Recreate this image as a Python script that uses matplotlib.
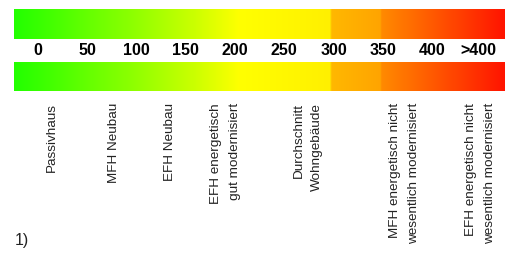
import numpy as np
import matplotlib.pyplot as plt
from matplotlib.colors import LinearSegmentedColormap

# Skala (kWh/m²a) und Beschriftungen
skala_werte = [0, 50, 100, 150, 200, 250, 300, 350, 400, 447]
skala_text = ["0", "50", "100", "150", "200", "250", "300", "350", "400", ">400"]

gebaeude_pos = [14, 77, 134, 190, 274, 372, 449]
gebaeude_text = ["Passivhaus",
                 "MFH Neubau",
                 "EFH Neubau",
                 "EFH energetisch\ngut modernisiert",
                 "Durchschnitt\nWohngebäude",
                 "MFH energetisch nicht\nwesentlich modernisiert",
                 "EFH energetisch nicht\nwesentlich modernisiert"]

# Farbverlauf: Stuetzstellen (Wert, Farbe)
verlauf_werte = [-24, 90, 160, 205, 297, 298, 348, 349, 474]
verlauf_farben = ["#22ff00", "#88ff00", "#ccff00", "#ffff00", "#fff000",
                  "#ffb800", "#ffa400", "#ff8a00", "#ff1400"]
balken_start, balken_ende = -24.4, 474

plt.rcParams['font.family'] = ['Liberation Sans', 'DejaVu Sans']

fig = plt.figure(figsize=(5.08, 2.62), dpi=100)
ax = fig.add_axes([0, 0, 1, 1])
ax.set_xlim(-38.6, 477.1)
ax.set_ylim(262, 0)
ax.axis('off')

pos = [(v - verlauf_werte[0]) / (verlauf_werte[-1] - verlauf_werte[0]) for v in verlauf_werte]
cmap = LinearSegmentedColormap.from_list("energie", list(zip(pos, verlauf_farben)), N=512)
grad = np.linspace(0, 1, 512).reshape(1, -1)

for y0, y1 in [(9, 39), (62, 91)]:
    ax.imshow(grad, cmap=cmap, aspect='auto', extent=(balken_start, balken_ende, y1, y0),
              interpolation='bilinear')

for v, t in zip(skala_werte, skala_text):
    ax.text(v, 50.5, t, ha='center', va='center', fontsize=11.5, fontweight='bold',
            family=['Liberation Sans Narrow', 'Liberation Sans', 'DejaVu Sans'])

for v, t in zip(gebaeude_pos, gebaeude_text):
    ax.text(v, 103, t, rotation=90, ha='right', va='center', rotation_mode='anchor',
            fontsize=9.7, color='#222222', linespacing=1.75, multialignment='right')

ax.text(-23.6, 240, "1)", fontsize=11.5, va='center', ha='left', color='#222222')

plt.savefig("out.png", dpi=100)
